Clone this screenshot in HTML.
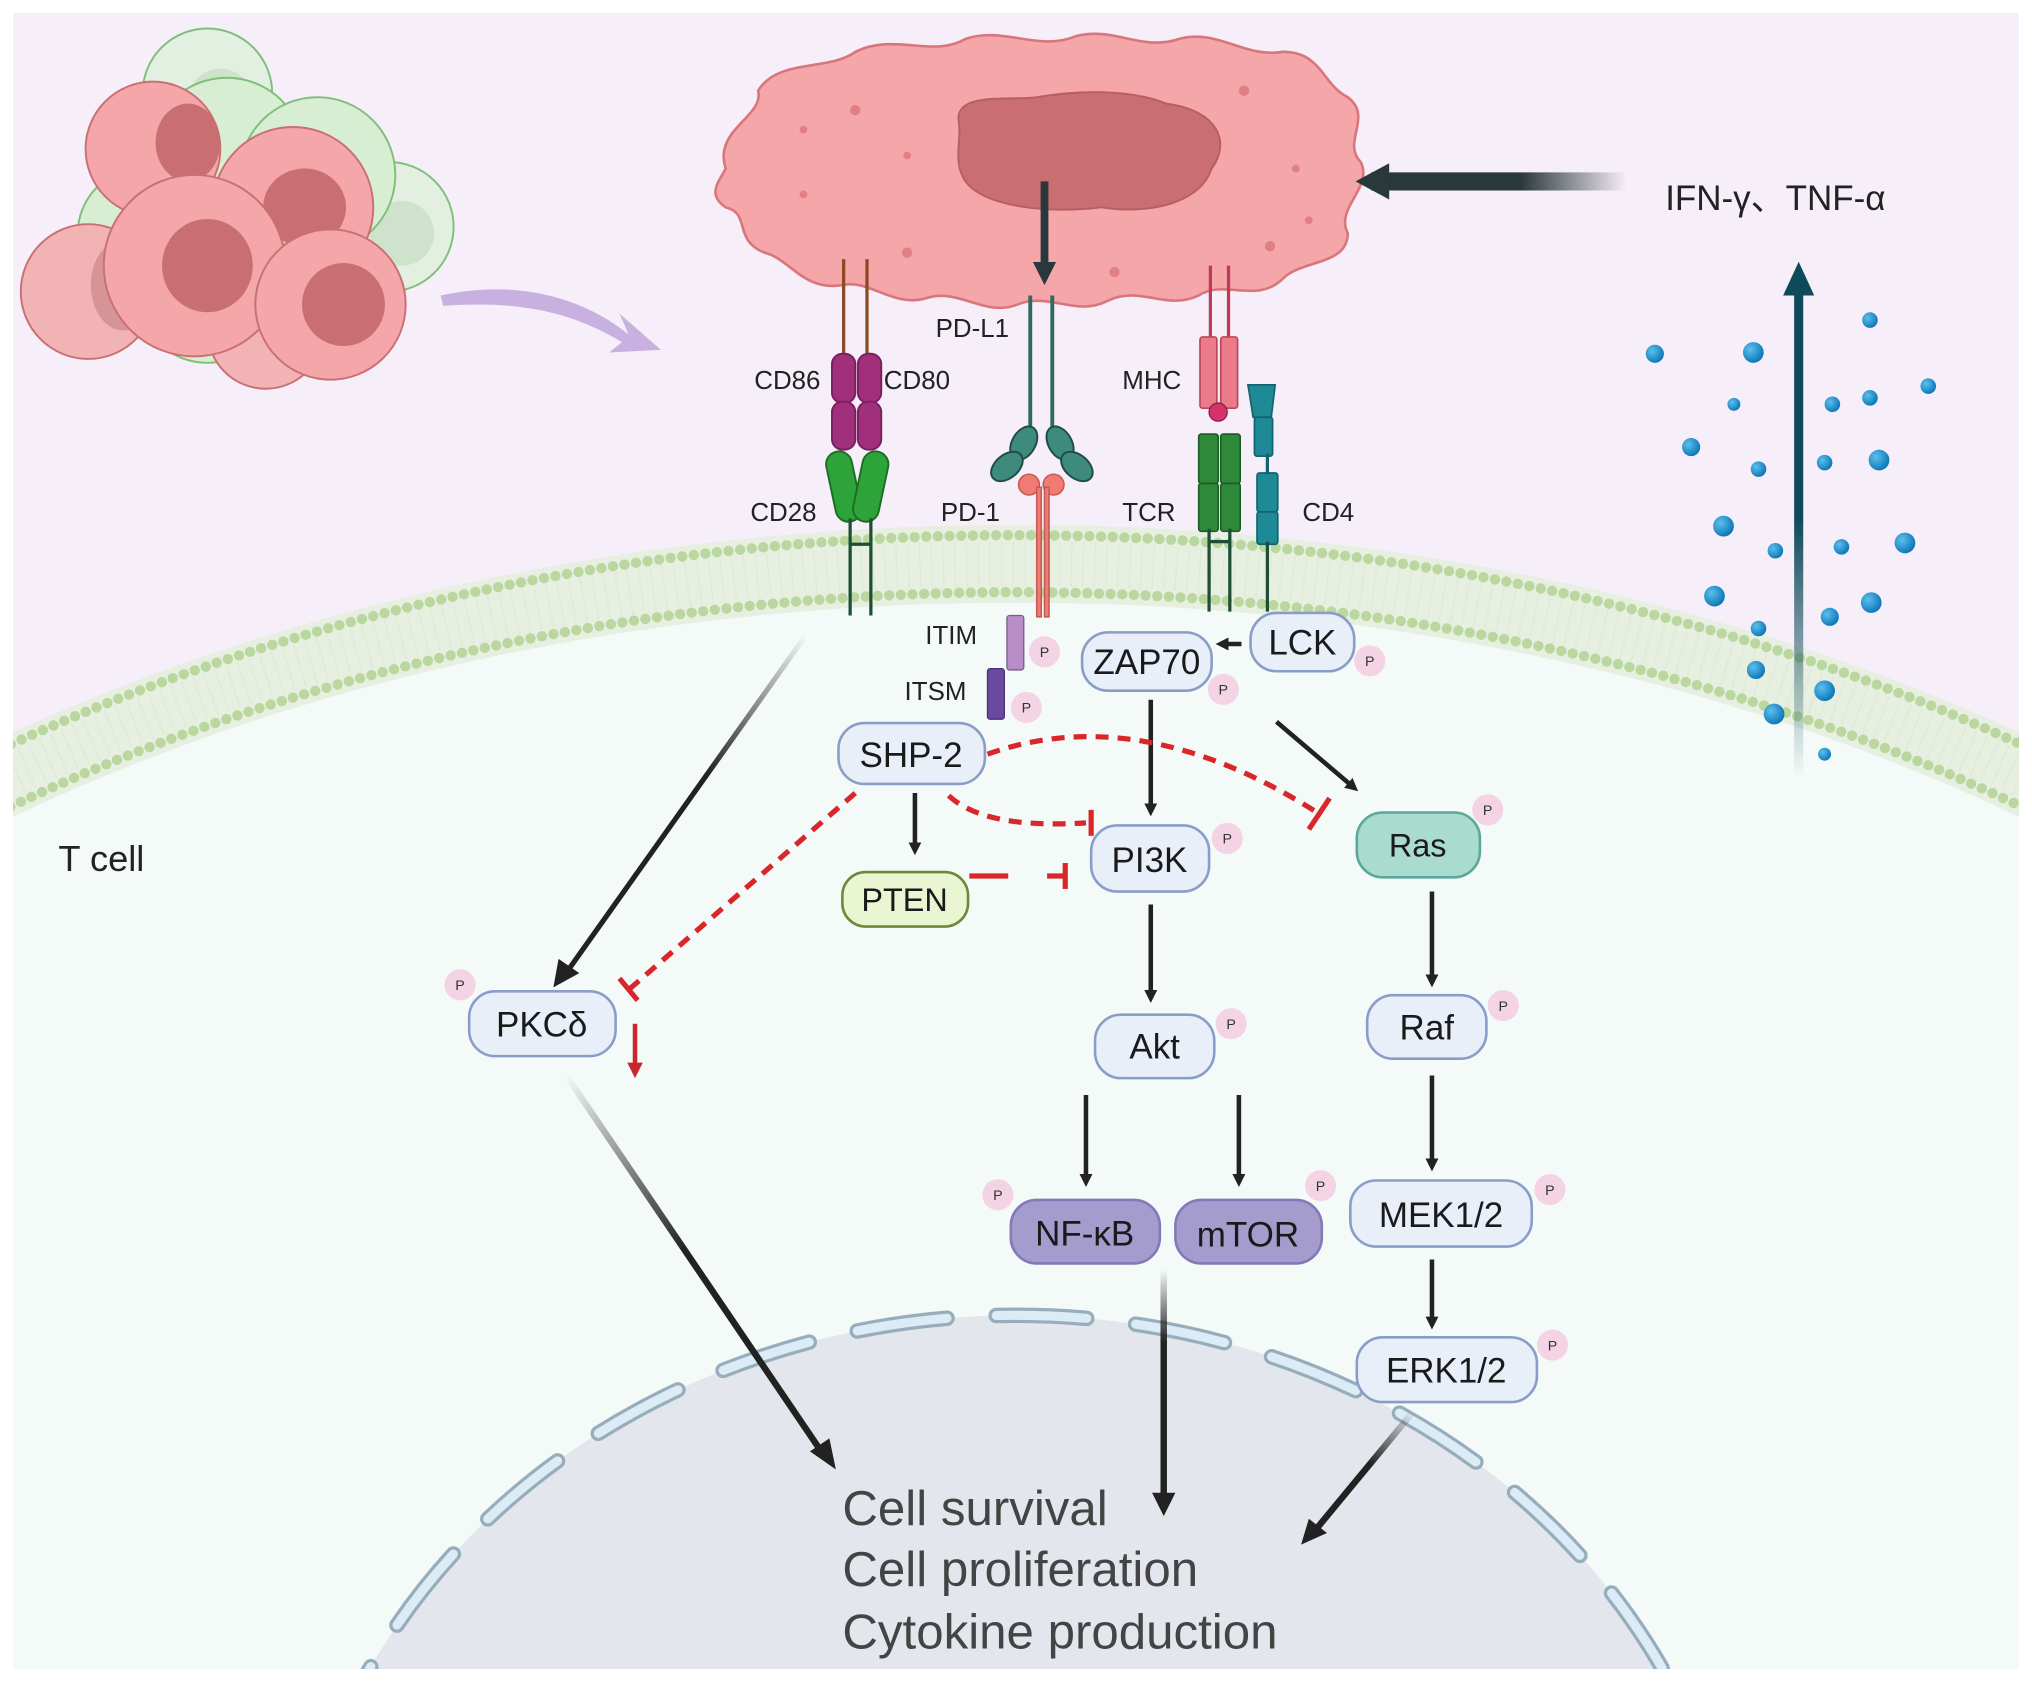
<!DOCTYPE html>
<html><head><meta charset="utf-8"><style>
html,body{margin:0;padding:0;background:#fff;width:2032px;height:1682px;overflow:hidden}
svg{display:block}
text{font-family:"Liberation Sans Narrow","Liberation Sans",sans-serif}
</style></head><body>
<svg width="2032" height="1682" viewBox="0 0 1568 1298" xmlns="http://www.w3.org/2000/svg">
<defs>
<marker id="ah" markerWidth="10" markerHeight="10" refX="6" refY="5" orient="auto" markerUnits="userSpaceOnUse" viewBox="0 0 10 10"><path d="M0,0 L10,5 L0,10 Z" fill="#222"/></marker>
<marker id="ahd" markerWidth="18" markerHeight="18" refX="10" refY="9" orient="auto" markerUnits="userSpaceOnUse"><path d="M0,0 L18,9 L0,18 Z" fill="#29383a"/></marker>
<marker id="ahr" markerWidth="12" markerHeight="12" refX="6" refY="6" orient="auto" markerUnits="userSpaceOnUse"><path d="M0,0 L12,6 L0,12 Z" fill="#c8282d"/></marker>
<linearGradient id="g1" x1="622" y1="490" x2="430" y2="760" gradientUnits="userSpaceOnUse"><stop offset="0" stop-color="#222" stop-opacity="0"/><stop offset="0.4" stop-color="#222"/></linearGradient>
<linearGradient id="g2" x1="437" y1="830" x2="640" y2="1130" gradientUnits="userSpaceOnUse"><stop offset="0" stop-color="#222" stop-opacity="0"/><stop offset="0.45" stop-color="#222"/></linearGradient>
<linearGradient id="g3" x1="898" y1="980" x2="898" y2="1168" gradientUnits="userSpaceOnUse"><stop offset="0" stop-color="#222" stop-opacity="0"/><stop offset="0.3" stop-color="#222"/></linearGradient>
<linearGradient id="g4" x1="1090" y1="1090" x2="1008" y2="1190" gradientUnits="userSpaceOnUse"><stop offset="0" stop-color="#222" stop-opacity="0"/><stop offset="0.4" stop-color="#222"/></linearGradient>
<linearGradient id="g5" x1="1255" y1="140" x2="1050" y2="140" gradientUnits="userSpaceOnUse"><stop offset="0" stop-color="#29383a" stop-opacity="0"/><stop offset="0.4" stop-color="#29383a"/></linearGradient>
<linearGradient id="g6" x1="1388" y1="600" x2="1388" y2="200" gradientUnits="userSpaceOnUse"><stop offset="0" stop-color="#0f4a5a" stop-opacity="0"/><stop offset="0.5" stop-color="#0f4a5a"/></linearGradient>
<radialGradient id="bd" cx="0.35" cy="0.35" r="0.7"><stop offset="0" stop-color="#5bc0ee"/><stop offset="1" stop-color="#0b74b5"/></radialGradient>
</defs>
<rect width="1568" height="1298" fill="#fff"/>
<rect x="10" y="10" width="1548" height="1278" fill="#f6eef8"/>
<clipPath id="cl"><rect x="10" y="10" width="1548" height="1278"/></clipPath>
<g clip-path="url(#cl)">
<ellipse cx="784" cy="1350" rx="1390" ry="945" fill="#e6efe0"/>
<ellipse cx="784" cy="1350" rx="1330" ry="885" fill="#f3faf8"/>
<ellipse cx="784" cy="1350" rx="1382" ry="937" fill="none" stroke="#b9d79e" stroke-width="8" stroke-dasharray="0 9" stroke-linecap="round"/>
<ellipse cx="784" cy="1350" rx="1338" ry="893" fill="none" stroke="#b9d79e" stroke-width="8" stroke-dasharray="0 9" stroke-linecap="round"/>
<ellipse cx="784" cy="1350" rx="1360" ry="915" fill="none" stroke="#dfe9d6" stroke-width="34" stroke-dasharray="1 8"/>
<ellipse cx="784" cy="1515" rx="560" ry="500" fill="#e3e6ec"/>
<ellipse cx="784" cy="1515" rx="560" ry="500" fill="none" stroke="#98adbb" stroke-width="12" stroke-dasharray="70 38" stroke-linecap="round"/>
<ellipse cx="784" cy="1515" rx="560" ry="500" fill="none" stroke="#dbecf7" stroke-width="7" stroke-dasharray="70 38" stroke-linecap="round"/>
</g>
<g stroke="#7fbf7a" stroke-width="1.5">
<circle cx="160" cy="72" r="50" fill="#e3f0e1"/><circle cx="170" cy="78" r="25" fill="#cfe3cc" stroke="none"/>
<circle cx="300" cy="175" r="50" fill="#e3f0e1"/><circle cx="310" cy="180" r="25" fill="#cfe3cc" stroke="none"/>
<circle cx="110" cy="180" r="50" fill="#d7eed3"/>
<circle cx="175" cy="120" r="60" fill="#d7eed3"/>
<circle cx="245" cy="135" r="60" fill="#d7eed3"/>
<circle cx="160" cy="225" r="55" fill="#d7eed3"/>
</g>
<g stroke="#c97075" stroke-width="1.5">
<circle cx="68" cy="225" r="52" fill="#f2b3b5"/><ellipse cx="95" cy="220" rx="25" ry="35" fill="#d79496" stroke="none"/>
<circle cx="205" cy="255" r="45" fill="#f2b3b5"/>
<circle cx="118" cy="115" r="52" fill="#f4a6a8"/><ellipse cx="145" cy="110" rx="25" ry="30" fill="#c96f72" stroke="none"/>
<circle cx="226" cy="160" r="62" fill="#f4a6a8"/><ellipse cx="235" cy="160" rx="32" ry="30" fill="#c96f72" stroke="none"/>
<circle cx="150" cy="205" r="70" fill="#f4a6a8"/><ellipse cx="160" cy="205" rx="35" ry="36" fill="#c96f72" stroke="none"/>
<circle cx="255" cy="235" r="58" fill="#f4a6a8"/><ellipse cx="265" cy="235" rx="32" ry="32" fill="#c96f72" stroke="none"/>
</g>
<path d="M340,228 C400,215 450,230 485,258 L478,242 L510,270 L470,272 L480,264 C440,240 400,232 342,236 Z" fill="#c8b0e0"/>
<path d="M560,130 C550,100 590,90 585,70 C600,45 640,55 660,40 C690,25 720,45 745,30 C775,20 800,40 830,28 C860,20 880,40 910,30 C940,22 960,45 990,40 C1020,40 1020,65 1040,75 C1060,90 1035,110 1050,125 C1060,145 1030,160 1040,180 C1040,205 1005,200 990,215 C970,235 945,215 925,228 C900,240 880,220 855,232 C830,245 810,225 785,235 C760,245 740,222 715,230 C690,238 670,215 650,220 C620,225 610,200 590,195 C565,185 580,165 560,160 C545,150 555,140 560,130 Z" fill="#f5a6a8" stroke="#d9767c" stroke-width="2"/>
<path d="M740,95 C735,70 780,78 800,75 C830,70 870,68 900,80 C940,85 950,110 935,130 C925,160 880,165 850,160 C810,165 760,160 745,140 C735,125 742,110 740,95 Z" fill="#c96f72" stroke="#b75e62" stroke-width="1.5"/>
<g fill="#e07f85"><circle cx="660" cy="85" r="4"/><circle cx="620" cy="150" r="3"/><circle cx="700" cy="195" r="4"/><circle cx="960" cy="70" r="4"/><circle cx="1000" cy="130" r="3"/><circle cx="980" cy="190" r="4"/><circle cx="860" cy="210" r="4"/><circle cx="700" cy="120" r="3"/><circle cx="620" cy="100" r="3"/><circle cx="1010" cy="170" r="3"/></g>
<line x1="806" y1="140" x2="806" y2="212" stroke="#29383a" stroke-width="6" marker-end="url(#ahd)"/>
<line x1="1255" y1="140" x2="1058" y2="140" stroke="url(#g5)" stroke-width="14"/>
<path d="M1072,126 L1046,140 L1072,154 Z" fill="#29383a"/>
<text x="1285" y="162" font-size="27" fill="#222" font-family="Liberation Sans,'Noto Sans CJK SC',sans-serif">IFN-γ、TNF-α</text>
<line x1="1388" y1="600" x2="1388" y2="220" stroke="url(#g6)" stroke-width="7"/>
<path d="M1376,228 L1388,202 L1400,228 Z" fill="#0f4a5a"/>
<g fill="url(#bd)">
<circle cx="1277" cy="273" r="7"/><circle cx="1353" cy="272" r="8"/><circle cx="1443" cy="247" r="6"/><circle cx="1338" cy="312" r="5"/><circle cx="1414" cy="312" r="6"/><circle cx="1443" cy="307" r="6"/><circle cx="1488" cy="298" r="6"/><circle cx="1305" cy="345" r="7"/><circle cx="1357" cy="362" r="6"/><circle cx="1408" cy="357" r="6"/><circle cx="1450" cy="355" r="8"/><circle cx="1330" cy="406" r="8"/><circle cx="1370" cy="425" r="6"/><circle cx="1421" cy="422" r="6"/><circle cx="1470" cy="419" r="8"/><circle cx="1323" cy="460" r="8"/><circle cx="1357" cy="485" r="6"/><circle cx="1412" cy="476" r="7"/><circle cx="1444" cy="465" r="8"/><circle cx="1355" cy="517" r="7"/><circle cx="1408" cy="533" r="8"/><circle cx="1369" cy="551" r="8"/><circle cx="1408" cy="582" r="5"/>
</g>
<line x1="651" y1="200" x2="651" y2="280" stroke="#8a4a22" stroke-width="2.5"/><line x1="669" y1="200" x2="669" y2="280" stroke="#8a4a22" stroke-width="2.5"/>
<g fill="#a0307c" stroke="#7a1f5e" stroke-width="1.5"><rect x="642" y="273" width="18" height="38" rx="8"/><rect x="662" y="273" width="18" height="38" rx="8"/><rect x="642" y="310" width="18" height="37" rx="8"/><rect x="662" y="310" width="18" height="37" rx="8"/></g>
<g fill="#2ea33a" stroke="#1d6e25" stroke-width="1.5"><rect x="641" y="348" width="20" height="55" rx="10" transform="rotate(-12 651 375)"/><rect x="662" y="348" width="20" height="55" rx="10" transform="rotate(12 672 375)"/></g>
<g stroke="#1e4f36" stroke-width="2.5"><line x1="656" y1="400" x2="656" y2="475"/><line x1="672" y1="400" x2="672" y2="475"/><line x1="656" y1="420" x2="672" y2="420"/></g>
<line x1="795" y1="228" x2="795" y2="335" stroke="#2e6b5e" stroke-width="3"/><line x1="812" y1="228" x2="812" y2="335" stroke="#2e6b5e" stroke-width="3"/>
<g fill="#3e8a7c" stroke="#1f4d45" stroke-width="1.5"><ellipse cx="790" cy="342" rx="9" ry="14" transform="rotate(30 790 342)"/><ellipse cx="777" cy="360" rx="9" ry="14" transform="rotate(50 777 360)"/><ellipse cx="818" cy="342" rx="9" ry="14" transform="rotate(-30 818 342)"/><ellipse cx="831" cy="360" rx="9" ry="14" transform="rotate(-50 831 360)"/></g>
<g fill="#ef7b72" stroke="#c65a54" stroke-width="1.2"><circle cx="794" cy="374" r="8"/><circle cx="813" cy="374" r="8"/><rect x="800" y="376" width="3.5" height="100"/><rect x="806" y="376" width="3.5" height="100"/></g>
<line x1="934" y1="205" x2="934" y2="262" stroke="#c0395a" stroke-width="2.5"/><line x1="948" y1="205" x2="948" y2="262" stroke="#c0395a" stroke-width="2.5"/>
<g fill="#ec7b8a" stroke="#b8495a" stroke-width="1.3"><rect x="926" y="260" width="13" height="55" rx="2"/><rect x="942" y="260" width="13" height="55" rx="2"/></g>
<circle cx="940" cy="318" r="7" fill="#d6336c" stroke="#8a1f44"/>
<g fill="#2e8a3a" stroke="#1d5e25" stroke-width="1.3"><rect x="925" y="335" width="15" height="38" rx="2"/><rect x="942" y="335" width="15" height="38" rx="2"/><rect x="925" y="373" width="15" height="37" rx="2"/><rect x="942" y="373" width="15" height="37" rx="2"/></g>
<g stroke="#1e4f36" stroke-width="2.5"><line x1="933" y1="408" x2="933" y2="472"/><line x1="949" y1="408" x2="949" y2="472"/><line x1="933" y1="418" x2="949" y2="418"/></g>
<g fill="#1e8a96" stroke="#106470" stroke-width="1.3"><path d="M963,297 L984,297 L981,322 L967,322 Z"/><rect x="968" y="322" width="14" height="30" rx="2"/><rect x="970" y="365" width="16" height="30" rx="2"/><rect x="970" y="395" width="16" height="25" rx="2"/></g>
<line x1="978" y1="350" x2="978" y2="366" stroke="#106470" stroke-width="2.5"/><line x1="978" y1="418" x2="978" y2="472" stroke="#1e4f36" stroke-width="2.5"/>
<g font-size="20" fill="#222">
<text x="582" y="300">CD86</text><text x="682" y="300">CD80</text><text x="722" y="260">PD-L1</text><text x="866" y="300">MHC</text>
<text x="579" y="402">CD28</text><text x="726" y="402">PD-1</text><text x="866" y="402">TCR</text><text x="1005" y="402">CD4</text>
<text x="714" y="497">ITIM</text><text x="698" y="540">ITSM</text>
</g>
<rect x="777" y="475" width="13" height="42" rx="2" fill="#b88ec6" stroke="#7b5a90"/>
<rect x="762" y="516" width="13" height="39" rx="2" fill="#6a4a9e" stroke="#4a2e7a"/>
<g stroke-width="4" fill="none">
<line x1="622" y1="490" x2="436" y2="752" stroke="url(#g1)"/>
<line x1="437" y1="830" x2="635" y2="1122" stroke="url(#g2)" stroke-width="5"/>
<line x1="898" y1="980" x2="898" y2="1158" stroke="url(#g3)" stroke-width="5"/>
<line x1="1090" y1="1090" x2="1014" y2="1182" stroke="url(#g4)" stroke-width="5"/>
</g>
<path d="M427,762 L431,740 L447,751 Z" fill="#222"/>
<path d="M645,1134 L625,1120 L640,1110 Z" fill="#222"/>
<path d="M898,1170 L889,1152 L907,1152 Z" fill="#222"/>
<path d="M1004,1192 L1010,1172 L1024,1183 Z" fill="#222"/>
<g stroke="#222" stroke-width="3.5" marker-end="url(#ah)">
<line x1="888" y1="540" x2="888" y2="626"/>
<line x1="985" y1="557" x2="1045" y2="608"/>
<line x1="958" y1="497" x2="942" y2="497"/>
<line x1="706" y1="612" x2="706" y2="656"/>
<line x1="888" y1="698" x2="888" y2="770"/>
<line x1="838" y1="845" x2="838" y2="912"/>
<line x1="956" y1="845" x2="956" y2="912"/>
<line x1="1105" y1="688" x2="1105" y2="758"/>
<line x1="1105" y1="830" x2="1105" y2="900"/>
<line x1="1105" y1="972" x2="1105" y2="1022"/>
</g>
<line x1="490" y1="790" x2="490" y2="826" stroke="#c8282d" stroke-width="3.5" marker-end="url(#ahr)"/>
<g stroke="#d9262b" stroke-width="4" fill="none" stroke-dasharray="10 7">
<path d="M762,582 Q880,540 1018,628"/>
<path d="M732,614 Q760,640 838,635"/>
<line x1="660" y1="612" x2="486" y2="763"/>
</g>
<g stroke="#d9262b" stroke-width="4">
<line x1="1010" y1="640" x2="1026" y2="616"/>
<line x1="842" y1="625" x2="842" y2="645"/>
<line x1="478" y1="755" x2="492" y2="772"/>
<line x1="748" y1="676" x2="778" y2="676"/>
<line x1="808" y1="676" x2="822" y2="676"/>
<line x1="822" y1="666" x2="822" y2="686"/>
</g>
<g stroke-width="2">
<rect x="835" y="488" width="100" height="45" rx="20" fill="#e9eff9" stroke="#8a9dc8"/>
<rect x="965" y="473" width="80" height="45" rx="20" fill="#e9eff9" stroke="#8a9dc8"/>
<rect x="647" y="558" width="113" height="47" rx="20" fill="#e9eff9" stroke="#8a9dc8"/>
<rect x="842" y="637" width="91" height="51" rx="20" fill="#e9eff9" stroke="#8a9dc8"/>
<rect x="650" y="673" width="97" height="42" rx="18" fill="#eaf5d2" stroke="#6d8a3a"/>
<rect x="1047" y="627" width="95" height="50" rx="20" fill="#a9dccf" stroke="#5aa89a"/>
<rect x="362" y="765" width="113" height="50" rx="20" fill="#e9eff9" stroke="#8a9dc8"/>
<rect x="845" y="783" width="92" height="49" rx="20" fill="#e9eff9" stroke="#8a9dc8"/>
<rect x="1055" y="768" width="92" height="49" rx="20" fill="#e9eff9" stroke="#8a9dc8"/>
<rect x="780" y="926" width="115" height="49" rx="20" fill="#a39ccd" stroke="#8379b8"/>
<rect x="907" y="926" width="113" height="49" rx="20" fill="#a39ccd" stroke="#8379b8"/>
<rect x="1042" y="911" width="140" height="51" rx="20" fill="#e9eff9" stroke="#8a9dc8"/>
<rect x="1047" y="1032" width="139" height="50" rx="20" fill="#e9eff9" stroke="#8a9dc8"/>
</g>
<g font-size="27" fill="#1a1a1a" text-anchor="middle">
<text x="885" y="520">ZAP70</text><text x="1005" y="505">LCK</text><text x="703" y="592">SHP-2</text><text x="887" y="673">PI3K</text>
<text x="698" y="703" font-size="25">PTEN</text><text x="1094" y="661" font-size="25">Ras</text><text x="418" y="800">PKCδ</text>
<text x="891" y="817">Akt</text><text x="1101" y="802">Raf</text><text x="837" y="961">NF-κB</text><text x="963" y="962">mTOR</text>
<text x="1112" y="947">MEK1/2</text><text x="1116" y="1067">ERK1/2</text>
</g>
<g fill="#f4d4e4">
<circle cx="806" cy="503" r="12"/><circle cx="792" cy="546" r="12"/><circle cx="944" cy="532" r="12"/><circle cx="1057" cy="510" r="12"/><circle cx="947" cy="647" r="12"/><circle cx="1148" cy="625" r="12"/><circle cx="355" cy="760" r="12"/><circle cx="950" cy="790" r="12"/><circle cx="1160" cy="776" r="12"/><circle cx="770" cy="922" r="12"/><circle cx="1019" cy="915" r="12"/><circle cx="1196" cy="918" r="12"/><circle cx="1198" cy="1038" r="12"/>
</g>
<g font-size="11" fill="#333" text-anchor="middle">
<text x="806" y="507">P</text><text x="792" y="550">P</text><text x="944" y="536">P</text><text x="1057" y="514">P</text><text x="947" y="651">P</text><text x="1148" y="629">P</text><text x="355" y="764">P</text><text x="950" y="794">P</text><text x="1160" y="780">P</text><text x="770" y="926">P</text><text x="1019" y="919">P</text><text x="1196" y="922">P</text><text x="1198" y="1042">P</text>
</g>
<text x="45" y="672" font-size="28" fill="#222">T cell</text>
<g font-size="38" fill="#444">
<text x="650" y="1177">Cell survival</text><text x="650" y="1224">Cell proliferation</text><text x="650" y="1272">Cytokine production</text>
</g>
</svg>
</body></html>
